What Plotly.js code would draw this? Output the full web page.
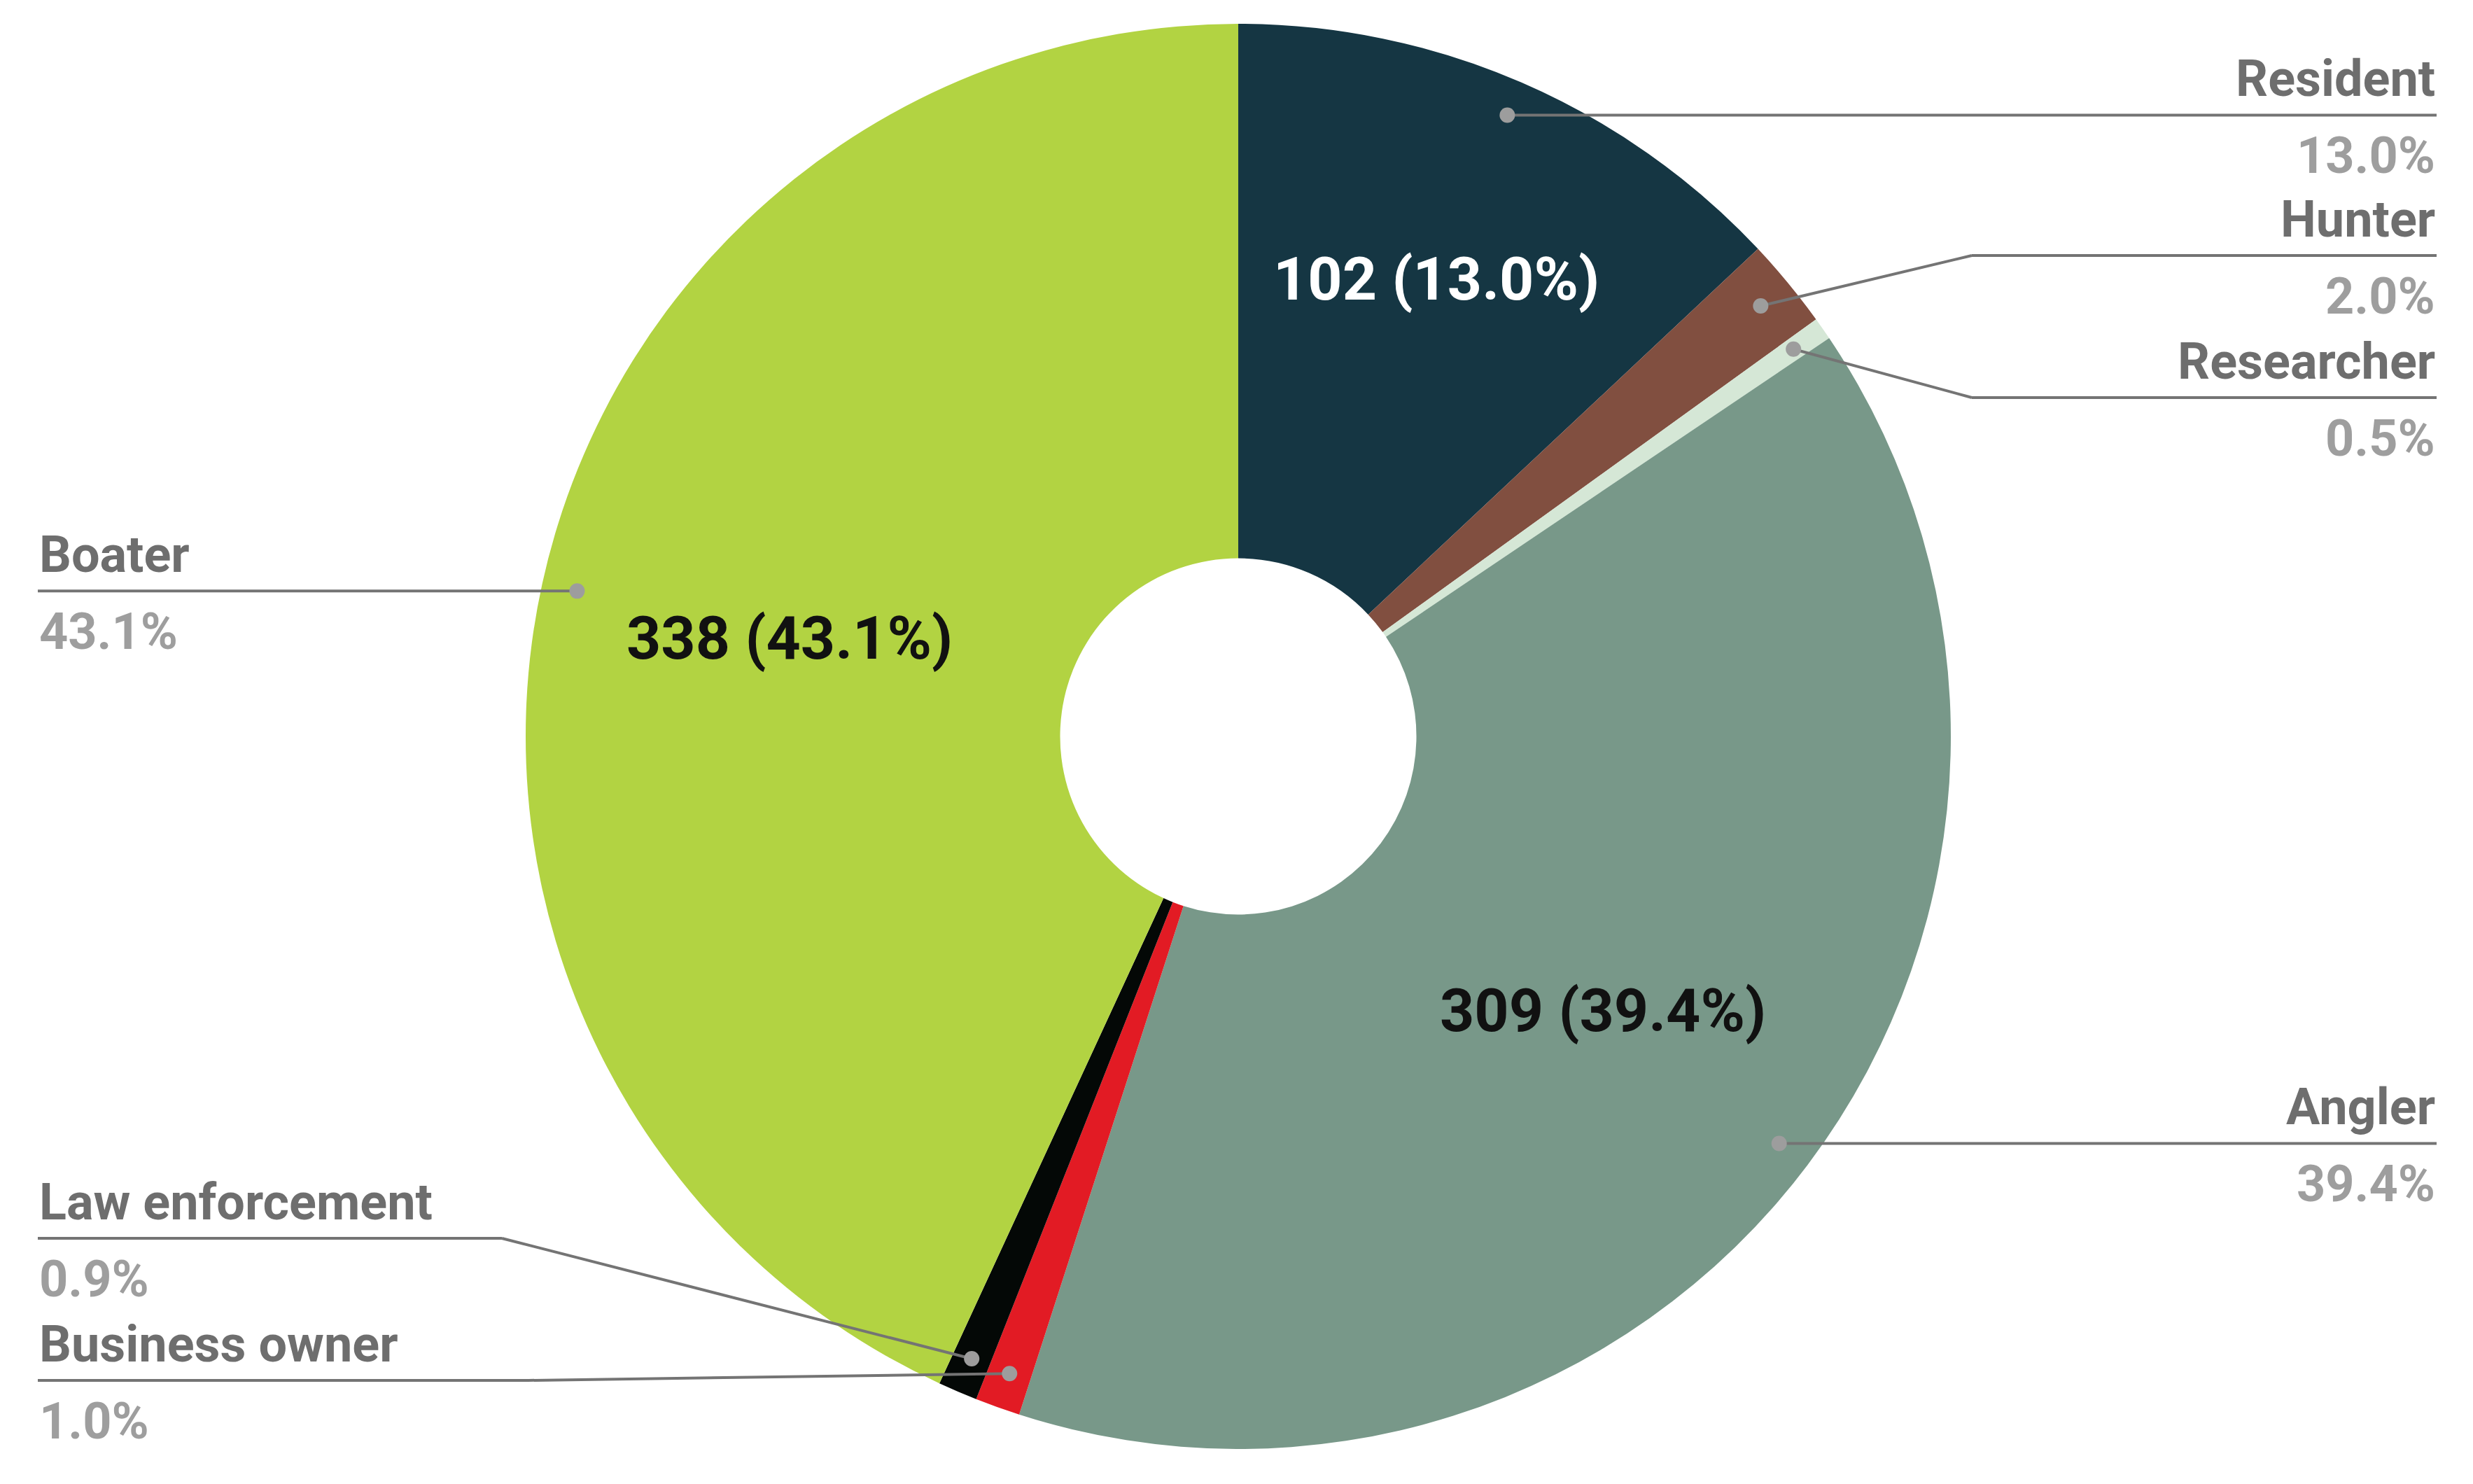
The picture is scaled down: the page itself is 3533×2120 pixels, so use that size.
<!DOCTYPE html>
<html>
<head>
<meta charset="utf-8">
<script src="https://cdn.plot.ly/plotly-3.0.1.min.js"></script>
<style>html,body{margin:0;padding:0;background:#fff;}#chart{width:3533px;height:2120px;}</style>
</head>
<body>
<div id="chart"></div>
<script>
// ---- data ----
const categories = ['Resident', 'Hunter', 'Researcher', 'Angler', 'Business owner', 'Law enforcement', 'Boater'];
const counts = [102, 16, 4, 309, 8, 7, 338];
const sliceColors = ['#153643', '#814f40', '#d5e7d6', '#789889', '#e21b24', '#040806', '#b2d342'];

// ---- layout / style settings (pixels) ----
const W = 3533, H = 2120;
const CX = 1769, CY = 1052, R = 1018;
const HOLE = 0.25;
const showInside = [true, false, false, true, false, false, true];
const insideRadius = [0.70, 0, 0, 0.64, 0, 0, 0.645];
const insideColor = ['#ffffff', '#000', '#000', '#111111', '#000', '#000', '#111111'];
const side = ['right', 'right', 'right', 'right', 'left', 'left', 'left'];
const labelLineY = [null, 365, 568, null, 1972, 1769, null];
const elbowX = [null, 2817, 2817, null, 755, 717, null];
const DOT_R = 0.95;
const RIGHT_X = 3481, LEFT_X = 54;

const total = counts.reduce((a, b) => a + b, 0);
const px = x => x / W;
const py = y => 1 - y / H;

const annotations = [];
const shapes = [];
let cum = 0;
counts.forEach((v, i) => {
  const theta = (cum + v / 2) / total * 2 * Math.PI;
  cum += v;
  const pct = (v / total * 100).toFixed(1) + '%';
  if (showInside[i]) {
    const r = insideRadius[i] * R;
    annotations.push({
      x: px(CX + r * Math.sin(theta)), y: py(CY - r * Math.cos(theta)),
      xref: 'paper', yref: 'paper', xanchor: 'center', yanchor: 'middle',
      text: v + ' (' + pct + ')', showarrow: false,
      font: {family: 'Roboto', size: 86, weight: 'bold', color: insideColor[i]}
    });
  }
  // leader line
  const dx = CX + DOT_R * R * Math.sin(theta);
  const dy = CY - DOT_R * R * Math.cos(theta);
  const ly = labelLineY[i] === null ? dy : labelLineY[i];
  const edgeX = side[i] === 'right' ? RIGHT_X : LEFT_X;
  const lineStyle = {color: '#747474', width: 4};
  if (elbowX[i] !== null) {
    shapes.push({type: 'line', xref: 'paper', yref: 'paper', x0: px(dx), y0: py(dy), x1: px(elbowX[i]), y1: py(ly), line: lineStyle});
    shapes.push({type: 'line', xref: 'paper', yref: 'paper', x0: px(elbowX[i]), y0: py(ly), x1: px(edgeX), y1: py(ly), line: lineStyle});
  } else {
    shapes.push({type: 'line', xref: 'paper', yref: 'paper', x0: px(dx), y0: py(ly), x1: px(edgeX), y1: py(ly), line: lineStyle});
  }
  const dr = 11;
  shapes.push({type: 'circle', xref: 'paper', yref: 'paper', x0: px(dx - dr), x1: px(dx + dr), y0: py(dy - dr), y1: py(dy + dr),
    fillcolor: '#9d9d9d', line: {width: 0}});
  const anchor = side[i] === 'right' ? 'right' : 'left';
  annotations.push({
    x: px(edgeX), y: py(ly - 52), xref: 'paper', yref: 'paper', xanchor: anchor, yanchor: 'middle',
    text: categories[i], showarrow: false,
    font: {family: 'Roboto', size: 72, weight: 'bold', color: '#6e6e6e'}
  });
  annotations.push({
    x: px(edgeX), y: py(ly + 58), xref: 'paper', yref: 'paper', xanchor: anchor, yanchor: 'middle',
    text: pct, showarrow: false,
    font: {family: 'Roboto', size: 72, weight: 'bold', color: '#9e9e9e'}
  });
});

const trace = {
  type: 'pie',
  labels: categories,
  values: counts,
  sort: false,
  direction: 'clockwise',
  rotation: 0,
  hole: HOLE,
  textinfo: 'none',
  hoverinfo: 'label+value+percent',
  marker: {colors: sliceColors, line: {width: 0}},
  domain: {x: [(CX - R) / W, (CX + R) / W], y: [(H - CY - R) / H, (H - CY + R) / H]}
};

const layout = {
  width: W, height: H,
  margin: {l: 0, r: 0, t: 0, b: 0},
  showlegend: false,
  paper_bgcolor: '#ffffff',
  annotations: annotations,
  shapes: shapes
};

Plotly.newPlot('chart', [trace], layout, {displayModeBar: false, staticPlot: true});
</script>
</body>
</html>
